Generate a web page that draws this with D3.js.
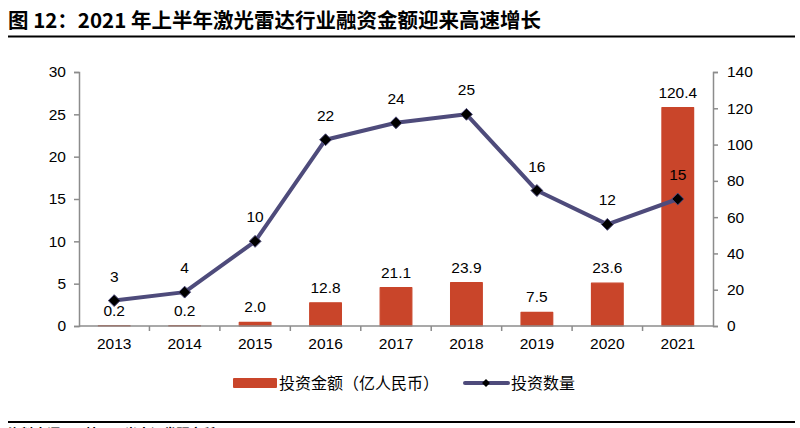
<!DOCTYPE html>
<html><head><meta charset="utf-8">
<script src="https://cdn.jsdelivr.net/npm/d3@7"></script>
<style>body{margin:0;background:#fff;}svg{display:block;}</style>
</head><body>
<svg id="c" width="800" height="428"></svg>
<script>
const title = "图 12：2021 年上半年激光雷达行业融资金额迎来高速增长";
const source = "资料来源：IT桔子，光大证券研究所";
const years = ["2013","2014","2015","2016","2017","2018","2019","2020","2021"];
const amounts = [0.2, 0.2, 2.0, 12.8, 21.1, 23.9, 7.5, 23.6, 120.4];
const amountLabels = ["0.2","0.2","2.0","12.8","21.1","23.9","7.5","23.6","120.4"];
const counts = [3, 4, 10, 22, 24, 25, 16, 12, 15];
const leftTicks = [0,5,10,15,20,25,30];
const rightTicks = [0,20,40,60,80,100,120,140];
const seriesNames = ["投资金额（亿人民币）", "投资数量"];

const svg = d3.select("#c");
const num = "'Liberation Sans', Arial, sans-serif";
const cjk = "'Noto Sans CJK SC', sans-serif";
const barColor = "#C9452A", lineColor = "#4E4B7B", axisColor = "#8C8C8C";

// title
svg.append("text").attr("x", 8).attr("y", 28).attr("font-family", cjk)
  .attr("font-weight", "bold").attr("font-size", 20.5).attr("fill", "#000").text(title);
svg.append("line").attr("x1", 8).attr("x2", 795).attr("y1", 36.5).attr("y2", 36.5)
  .attr("stroke", "#000").attr("stroke-width", 2);

const L = 79, R = 713, T = 72, B = 326;
const x = d3.scaleBand().domain(years).range([L, R]).paddingInner(0.55).paddingOuter(0.275);
const xb = d3.scaleBand().domain(years).range([L, R]);
const yL = d3.scaleLinear().domain([0, 30]).range([B, T]);
const yR = d3.scaleLinear().domain([0, 140]).range([B, T]);

// bars
svg.append("g").selectAll("rect").data(years).join("rect")
  .attr("x", d => x(d)).attr("width", x.bandwidth())
  .attr("y", (d, i) => yR(amounts[i])).attr("height", (d, i) => B - yR(amounts[i]))
  .attr("fill", barColor).attr("stroke", barColor).attr("stroke-width", 1.2)
  .attr("stroke-linejoin", "round");

// axes
const axL = svg.append("g").attr("transform", `translate(${L},0)`)
  .call(d3.axisLeft(yL).tickValues(leftTicks).tickSize(5).tickPadding(8));
const axR = svg.append("g").attr("transform", `translate(${R},0)`)
  .call(d3.axisRight(yR).tickValues(rightTicks).tickSize(5).tickPadding(9));
const axB = svg.append("g").attr("transform", `translate(0,${B})`)
  .call(d3.axisBottom(xb).tickSize(0).tickPadding(12));
// bottom ticks at band boundaries
svg.append("g").selectAll("line").data(years.slice(1)).join("line")
  .attr("x1", d => xb(d)).attr("x2", d => xb(d)).attr("y1", B).attr("y2", B + 5)
  .attr("stroke", axisColor).attr("stroke-width", 1.5);
[axL, axR, axB].forEach(a => {
  a.select(".domain").attr("stroke", axisColor).attr("stroke-width", 1.5);
  a.selectAll(".tick line").attr("stroke", axisColor).attr("stroke-width", 1.5);
  a.selectAll("text").attr("font-family", num).attr("font-size", 15.5).attr("fill", "#000");
});
axB.select(".domain").attr("d", `M${L},0H${R}`);

// bar labels
svg.append("g").selectAll("text").data(years).join("text")
  .attr("x", d => xb(d) + xb.bandwidth() / 2).attr("y", (d, i) => yR(amounts[i]) - 10)
  .attr("text-anchor", "middle").attr("font-family", num).attr("font-size", 15.5)
  .attr("fill", "#000").text((d, i) => amountLabels[i]);

// line
const line = d3.line().x((d, i) => xb(years[i]) + xb.bandwidth() / 2).y(d => yL(d));
svg.append("path").datum(counts).attr("d", line).attr("fill", "none")
  .attr("stroke", lineColor).attr("stroke-width", 4).attr("stroke-linejoin", "round");
const diamond = d3.symbol().type(d3.symbolDiamond2).size(90);
svg.append("g").selectAll("path").data(counts).join("path")
  .attr("d", diamond)
  .attr("transform", (d, i) => `translate(${xb(years[i]) + xb.bandwidth() / 2},${yL(d)})`)
  .attr("fill", "#000").attr("stroke", lineColor).attr("stroke-width", 1);
svg.append("g").selectAll("text").data(counts).join("text")
  .attr("x", (d, i) => xb(years[i]) + xb.bandwidth() / 2).attr("y", d => yL(d) - 19)
  .attr("text-anchor", "middle").attr("font-family", num).attr("font-size", 15.5)
  .attr("fill", "#000").text(d => d);

// legend
const lg = svg.append("g");
lg.append("rect").attr("x", 233).attr("y", 378).attr("width", 44).attr("height", 10)
  .attr("fill", barColor).attr("rx", 1);
lg.append("text").attr("x", 279).attr("y", 389).attr("font-family", cjk).attr("font-size", 16)
  .attr("fill", "#000").text(seriesNames[0]);
lg.append("line").attr("x1", 465).attr("x2", 508).attr("y1", 383).attr("y2", 383)
  .attr("stroke", lineColor).attr("stroke-width", 4).attr("stroke-linecap", "round");
lg.append("path").attr("d", d3.symbol().type(d3.symbolDiamond2).size(40))
  .attr("transform", "translate(486,383)").attr("fill", "#000");
lg.append("text").attr("x", 511).attr("y", 389).attr("font-family", cjk).attr("font-size", 16)
  .attr("fill", "#000").text(seriesNames[1]);

// footer
svg.append("line").attr("x1", 8).attr("x2", 795).attr("y1", 422).attr("y2", 422)
  .attr("stroke", "#000").attr("stroke-width", 2);
svg.append("text").attr("x", 8).attr("y", 438).attr("font-family", cjk).attr("font-size", 13)
  .attr("font-weight", "bold").attr("fill", "#000").text(source);
</script>
</body></html>
